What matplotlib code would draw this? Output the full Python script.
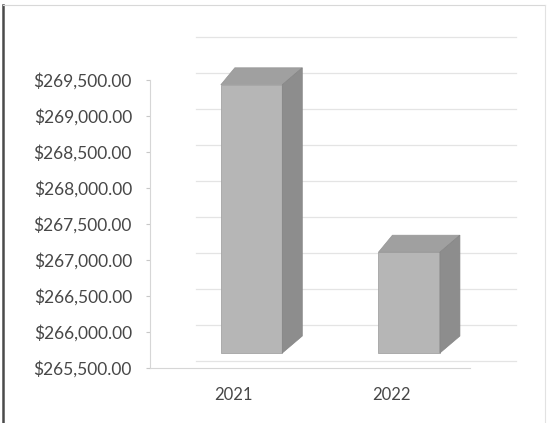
import numpy as np
import matplotlib
matplotlib.use("Agg")
import matplotlib.pyplot as plt
from matplotlib.patches import Polygon
from matplotlib.lines import Line2D
from matplotlib.transforms import ScaledTranslation, IdentityTransform

# ============================================================
# data
# ============================================================
years = ["2021", "2022"]
amounts = [269225, 266900]

y_min = 265500
y_max = 270000
tick_values = list(range(265500, 269501, 500))
grid_values = list(range(265500, 270001, 500))

# ============================================================
# style / geometry (pixels at dpi 100)
# ============================================================
W, H = 550, 423
DPI = 100

FRONT_COLOR = "#b6b6b6"
TOP_COLOR = "#a0a0a0"
SIDE_COLOR = "#8d8d8d"
TEXT_COLOR = "#474747"
GRID_COLOR = "#e4e4e4"

BAR_SHIFT = (18, 15)      # bar front face moved back into the box
DEPTH_L, DEPTH_R, DEPTH_Y = 14, 20, 17
WALL_SHIFT = (46, 7)      # back wall offset

plt.rcParams["font.family"] = ["Lato", "DejaVu Sans"]

fig = plt.figure(figsize=(W / DPI, H / DPI), dpi=DPI)
ax = fig.add_axes([150 / W, (H - 368) / H, (470 - 150) / W, (368 - 44) / H])
ax.set_xlim(-0.53, 1.5)
ax.set_ylim(y_min, y_max)

# ------------------------------------------------------------
# axes look
# ------------------------------------------------------------
for s in ["top", "right"]:
    ax.spines[s].set_visible(False)
ax.spines["left"].set_color("#d6d6d6")
ax.spines["left"].set_bounds(y_min, tick_values[-1])
ax.spines["bottom"].set_color("#d6d6d6")

ax.set_yticks(tick_values)
ax.set_yticklabels([f"${v:,.2f}" for v in tick_values])
ax.tick_params(axis="y", length=3, color="#c8c8c8", pad=10,
               labelsize=12.5, labelcolor=TEXT_COLOR)

ax.set_xticks(range(len(years)))
ax.set_xticklabels(years)
ax.tick_params(axis="x", length=0, pad=14, labelsize=12, labelcolor=TEXT_COLOR)

# back wall gridlines
wall_tr = ax.transData + ScaledTranslation(WALL_SHIFT[0] / DPI, WALL_SHIFT[1] / DPI,
                                           fig.dpi_scale_trans)
for g in grid_values:
    ax.plot([-0.53, 1.5], [g, g], color=GRID_COLOR, lw=0.9,
            transform=wall_tr, clip_on=False, zorder=0)

# ------------------------------------------------------------
# 3D-ish bars
# ------------------------------------------------------------
front_tr = ax.transData + ScaledTranslation(BAR_SHIFT[0] / DPI, BAR_SHIFT[1] / DPI,
                                            fig.dpi_scale_trans)
x = np.arange(len(years))
width = 0.39
heights = [a - y_min for a in amounts]

ax.bar(x, heights, width=width, bottom=y_min, color=FRONT_COLOR,
       edgecolor="#a4a4a4", linewidth=0.6, transform=front_tr,
       clip_on=False, zorder=3)

ident = IdentityTransform()
for xi, a in zip(x, amounts):
    fl = front_tr.transform((xi - width / 2, a))
    fr = front_tr.transform((xi + width / 2, a))
    br_bottom = front_tr.transform((xi + width / 2, y_min))

    top = [fl, fr,
           (fr[0] + DEPTH_R, fr[1] + DEPTH_Y),
           (fl[0] + DEPTH_L, fl[1] + DEPTH_Y)]
    side = [fr,
            (fr[0] + DEPTH_R, fr[1] + DEPTH_Y),
            (br_bottom[0] + DEPTH_R, br_bottom[1] + DEPTH_Y),
            br_bottom]

    fig.add_artist(Polygon(top, closed=True, facecolor=TOP_COLOR,
                           edgecolor="#959595", lw=0.5, transform=ident, zorder=4))
    fig.add_artist(Polygon(side, closed=True, facecolor=SIDE_COLOR,
                           edgecolor="#858585", lw=0.5, transform=ident, zorder=4))

# ------------------------------------------------------------
# chart frame
# ------------------------------------------------------------
fig.add_artist(Line2D([3 / W, 3 / W], [0, 1 - 5 / H], color="#4a4a4a", lw=1.8))
fig.add_artist(Line2D([3 / W, 545 / W], [1 - 5 / H, 1 - 5 / H], color="#d8d8d8", lw=0.8))
fig.add_artist(Line2D([545 / W, 545 / W], [0, 1 - 5 / H], color="#e2e2e2", lw=0.8))

fig.savefig("out.png", dpi=DPI)
